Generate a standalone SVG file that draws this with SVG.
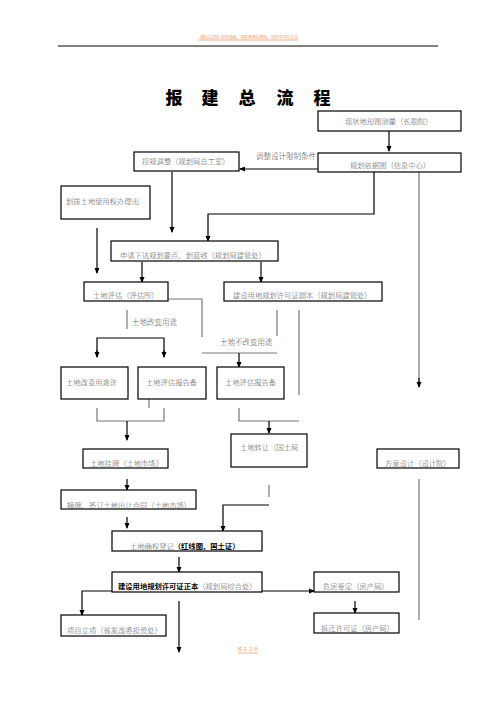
<svg xmlns="http://www.w3.org/2000/svg" width="496" height="702" viewBox="0 0 496 702">
<style>
.bx{fill:#fff;stroke:#000;stroke-width:1.2}
.t{font-family:"Noto Sans CJK SC","Liberation Serif",serif;font-size:7.3px;fill:#555;font-weight:300}
.lb{font-family:"Noto Sans CJK SC","Liberation Serif",serif;font-size:7.5px;fill:#555;font-weight:300}
.b{font-weight:700;fill:#000}
.ttl{font-family:"Noto Sans CJK SC",sans-serif;font-size:17px;font-weight:900;fill:#000}
.a{fill:none;stroke:#000;stroke-width:1.2;marker-end:url(#ah)}
.l{fill:none;stroke:#000;stroke-width:1.2}
.g{fill:none;stroke:#777;stroke-width:1.2}
.wm{font-family:"Noto Sans CJK SC",sans-serif;font-size:4px;fill:#f0a070}
</style>
<defs>
<marker id="ah" markerWidth="6" markerHeight="6" refX="5" refY="3" orient="auto" markerUnits="userSpaceOnUse">
<path d="M0,0.5 L6,3 L0,5.5 Z" fill="#000"/>
</marker>
</defs>
<text class="wm" x="198" y="39" textLength="100">【精品文档】如有侵权，请联系网站删除，仅供学习与交流</text>
<line x1="198" y1="40" x2="298" y2="40" stroke="#f0a070" stroke-width="0.8"/>
<line x1="58" y1="46" x2="438" y2="46" stroke="#000" stroke-width="1"/>
<g id="title">
<text class="ttl" x="174" y="104" text-anchor="middle">报</text>
<text class="ttl" x="210" y="104" text-anchor="middle">建</text>
<text class="ttl" x="247" y="104" text-anchor="middle">总</text>
<text class="ttl" x="285" y="104" text-anchor="middle">流</text>
<text class="ttl" x="322" y="104" text-anchor="middle">程</text>
</g>
<g id="connectors">
<path class="a" d="M389,131 V151"/>
<path class="a" d="M318,169 H240"/>
<path class="a" d="M172,172 V232"/>
<path class="a" d="M374,172 V214 H208 V241"/>
<path class="g" d="M419,172 V382"/>
<path class="a" d="M419,378 V387"/>
<path class="a" d="M97,228 V273"/>
<path class="a" d="M142,262 V282"/>
<path class="a" d="M261,262 V282"/>
<path class="g" d="M127,310 V329"/>
<path class="g" d="M168,299 H202 V337"/>
<path class="g" d="M277,310 V336"/>
<path class="g" d="M299,310 V395"/>
<path class="l" d="M97,357 V338 H164 V357"/>
<path class="a" d="M97,350 V357"/>
<path class="a" d="M164,350 V357"/>
<path class="g" d="M202,353 H277"/>
<path class="a" d="M239,353 V367"/>
<path class="g" d="M97,408 V421 H164 V408"/>
<path class="g" d="M149,399 V408"/>
<path class="a" d="M127,421 V440"/>
<path class="g" d="M239,408 V421 H299"/>
<path class="a" d="M269,421 V433"/>
<path class="g" d="M419,479 V620"/>
<path class="a" d="M127,479 V490"/>
<path class="a" d="M127,517 V528"/>
<path class="g" d="M269,485 V497"/>
<path class="a" d="M269,505 H223 V531"/>
<path class="a" d="M179,557 V572"/>
<path class="a" d="M112,591 H82 V615"/>
<path class="a" d="M262,591 H314"/>
<path class="a" d="M355,601 V613"/>
<path class="a" d="M179,601 V652"/>
</g>
<g id="labels">
<text class="lb" x="256" y="158.5">调整设计限制条件</text>
<text class="lb" x="132" y="324.5">土地改变用途</text>
<text class="lb" x="220" y="344.5">土地不改变用途</text>
</g>
<g id="n1"><rect class="bx" x="318" y="111" width="143" height="20"/><text class="t" x="345" y="123.6">现状地形图测量（长勘院）</text></g>
<g id="n2"><rect class="bx" x="134" y="152" width="105" height="19"/><text class="t" x="142" y="163.6">控规调整（规划局总工室）</text></g>
<g id="n3"><rect class="bx" x="318" y="153" width="143" height="19"/><text class="t" x="350" y="167.6">规划依据图（信息中心）</text></g>
<g id="n4"><rect class="bx" x="61" y="186" width="89" height="33"/><text class="t" x="66" y="203.6">划拨土地使用权办理出</text></g>
<g id="n5"><rect class="bx" x="111" y="241" width="167" height="20"/><text class="t" x="120" y="257.6">申请下达规划要点、划蓝线（规划局建管处）</text></g>
<g id="n6"><rect class="bx" x="84" y="282" width="84" height="19"/><text class="t" x="93" y="297.6">土地评估（评估所）</text></g>
<g id="n7"><rect class="bx" x="224" y="282" width="158" height="19"/><text class="t" x="233" y="297.6">建设用地规划许可证副本（规划局建管处）</text></g>
<g id="n8"><rect class="bx" x="61" y="367" width="67" height="32"/><text class="t" x="66" y="385">土地改变用途许</text></g>
<g id="n9"><rect class="bx" x="138" y="367" width="68" height="32"/><text class="t" x="146" y="385">土地评估报告备</text></g>
<g id="n10"><rect class="bx" x="217" y="367" width="67" height="32"/><text class="t" x="225" y="385">土地评估报告备</text></g>
<g id="n11"><rect class="bx" x="83" y="449" width="85" height="19"/><text class="t" x="90" y="465.6">土地挂牌（土地市场）</text></g>
<g id="n12"><rect class="bx" x="231" y="434" width="76" height="33"/><text class="t" x="240" y="449.6">土地转让（国土局</text></g>
<g id="n13"><rect class="bx" x="377" y="449" width="82" height="19"/><text class="t" x="385" y="465.6">方案设计（设计院）</text></g>
<g id="n14"><rect class="bx" x="61" y="490" width="135" height="19"/><text class="t" x="67" y="507.6">摘牌、签订土地出让合同（土地市场）</text></g>
<g id="n15"><rect class="bx" x="112" y="531" width="150" height="20"/><text class="t" x="130" y="548.6">土地确权登记<tspan class="b">（红线图、国土证）</tspan></text></g>
<g id="n16"><rect class="bx" x="112" y="572" width="150" height="20"/><text class="t" x="118" y="588.6"><tspan class="b">建设用地规划许可证正本</tspan>（规划局综合处）</text></g>
<g id="n17"><rect class="bx" x="314" y="572" width="85" height="20"/><text class="t" x="323" y="588.6">危房鉴定（房产局）</text></g>
<g id="n18"><rect class="bx" x="314" y="613" width="85" height="20"/><text class="t" x="321" y="630.6">拆迁许可证（房产局）</text></g>
<g id="n19"><rect class="bx" x="61" y="615" width="105" height="21"/><text class="t" x="67" y="632.6">项目立项（省发改委投资处）</text></g>
<text class="wm" x="238" y="651" textLength="20">精品文档</text>
<line x1="238" y1="653" x2="258" y2="653" stroke="#f0a070" stroke-width="0.8"/>
</svg>
